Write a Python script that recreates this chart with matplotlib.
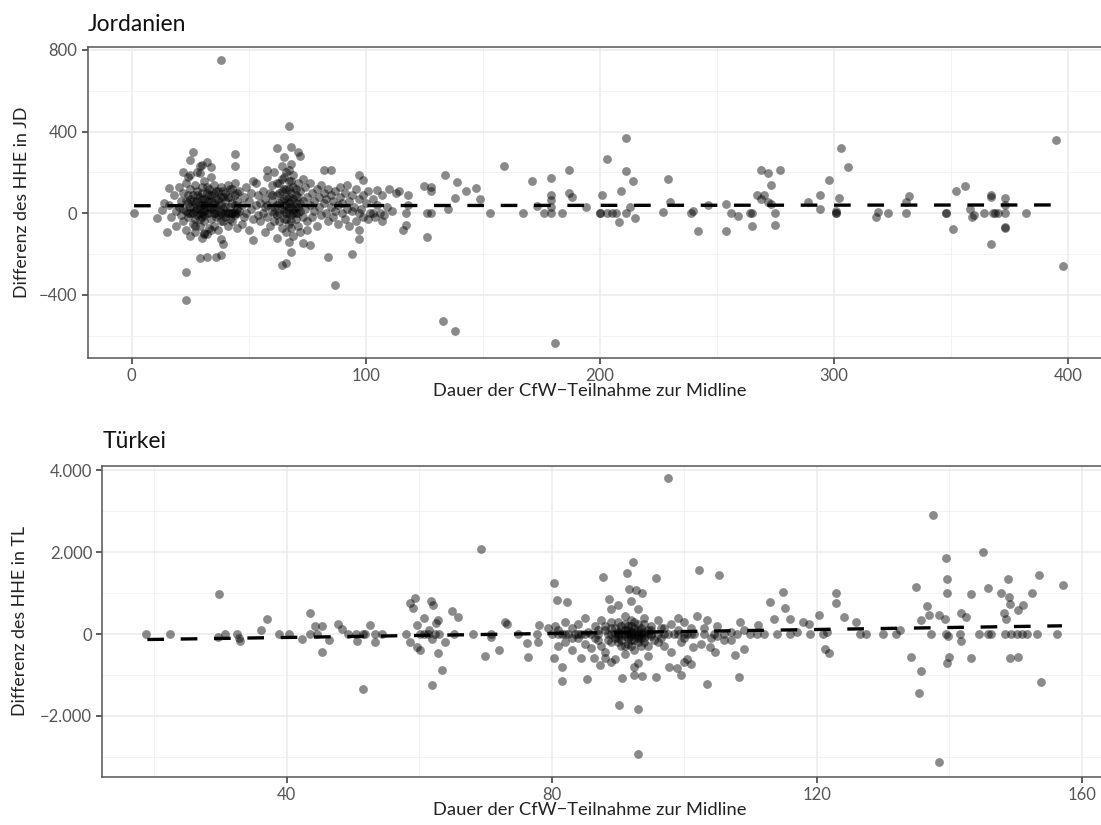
import matplotlib
matplotlib.use("Agg")
import matplotlib.pyplot as plt
import numpy as np
from matplotlib.ticker import FuncFormatter, MultipleLocator

plt.rcParams["font.family"] = ["Lato", "DejaVu Sans"]

# --- Jordanien: (Dauer in Tagen, Differenz HHE in JD) ---
jordan_outliers = [
    (38, 750), (67, 428), (23, -424), (23, -289), (87, -351), (133, -526), (138, -575),
    (181, -637), (211, 367), (303, 322), (395, 359), (398, -256),
]
jordan_cluster_a = [
    (1, 0), (11, -24), (13, 16), (14, 49), (15, -90), (16, 126), (16, 40), (17, -20),
    (18, 90), (19, 10), (19, -60), (20, 130), (20, 30), (21, -10), (21, 60), (22, 204),
    (22, -40), (22, 100), (23, 10), (23, 150), (23, -80), (24, 50), (24, -20), (24, 180),
    (25, 70), (25, -110), (25, 0), (25, 120), (25, 188), (26, 30), (26, -50), (26, 90),
    (26, 299), (25, 261), (27, -30), (27, 10), (27, 140), (27, -90), (28, 60), (28, -10),
    (28, 110), (28, 200), (29, 20), (29, -60), (29, 80), (29, 0), (29, 233), (29, 196),
    (29, -220), (30, 237), (30, 40), (30, -20), (30, 130), (30, -120), (31, 70), (31, 10),
    (31, 160), (31, -40), (31, -98), (31, -102), (32, 100), (32, -100), (32, 30), (32, 0),
    (32, 250), (32, -212), (33, 60), (33, -70), (33, 120), (34, 229), (34, 20), (34, -30),
    (34, 90), (34, 180), (35, 0), (35, 50), (35, -60), (35, 140), (36, 30), (36, -20),
    (36, 110), (36, -215), (37, -10), (37, 70), (37, -80), (38, 40), (38, 0), (38, 130),
    (38, -204), (38, -127), (39, -152), (39, -40), (39, 80), (39, 20), (40, 60), (40, -20),
    (40, 100), (41, 0), (41, 140), (41, -60), (42, 30), (42, 80), (42, -30), (43, 0),
    (43, 120), (43, 50), (44, 232), (44, 289), (44, -10), (44, 90), (44, 150), (45, 20),
    (45, -70), (45, 60),
]
jordan_cluster_a2 = [
    (22, 20), (23, 60), (24, 0), (24, 90), (25, 30), (26, 0), (26, 60), (27, 50), (27, -60),
    (28, 20), (28, 90), (29, 40), (29, -30), (30, 0), (30, 70), (30, 100), (31, 40),
    (31, -10), (32, 60), (32, 130), (33, 0), (33, 30), (33, 90), (34, 60), (34, -80),
    (35, 20), (35, 100), (36, 70), (36, 0), (37, 40), (37, 110), (38, 80), (38, -40),
    (39, 0), (39, 110), (40, 30), (40, 0), (41, 80), (42, 0), (42, 120), (43, -40),
    (43, 0), (44, 40), (44, 0), (45, 100), (45, 0),
]
jordan_cluster_b = [
    (46, 10), (46, 110), (47, -50), (47, 40), (48, 80), (48, -20), (49, 130), (49, 0),
    (50, 60), (50, -80), (51, 20), (51, 100), (52, -30), (52, 160), (52, -131), (53, 40),
    (53, 150), (54, -10), (54, 90), (55, 50), (55, -40), (56, 110), (56, 0), (57, 70),
    (57, -90), (57, 30), (58, 212),
]
jordan_cluster_c = [
    (58, 40), (58, -20), (58, 180), (59, 100), (59, -60), (60, 10), (60, 140), (60, 60),
    (61, -40), (61, 200), (61, 30), (62, 90), (62, -10), (62, -120), (62, 318), (63, 150),
    (63, 50), (63, 0), (64, -253), (64, 230), (64, -70), (64, 110), (64, 20), (65, 70),
    (65, -30), (65, 180), (65, 277), (65, 10), (66, -245), (66, 120), (66, -90), (66, 40),
    (66, 0), (67, 210), (67, 80), (67, -50), (67, 160), (67, 30), (67, -140), (68, -188),
    (68, 326), (68, 100), (68, -10), (68, 60), (68, 240), (68, -70), (69, 130), (69, 20),
    (69, -110), (69, 190), (70, 50), (70, -30), (70, 90), (70, 0), (71, 302), (71, 150),
    (71, -60), (71, 30), (72, 282), (72, 110), (72, -90), (72, 10), (73, -147), (73, 60),
    (73, -20), (73, 170),
]
jordan_cluster_c2 = [
    (60, 90), (61, 0), (62, 40), (62, 150), (63, 100), (63, -40), (64, 60), (64, 170),
    (65, 40), (65, 120), (66, 80), (66, 200), (66, -30), (67, 0), (67, 50), (67, 120),
    (68, 30), (68, 160), (68, -40), (69, 70), (69, 0), (70, 120), (70, 30), (71, 80),
    (71, 0), (72, 50),
]
jordan_cluster_d = [
    (74, 130), (74, 20), (75, -40), (75, 80), (75, -82), (76, -155), (76, 40), (76, 150),
    (77, -20), (77, 100), (78, 10), (78, 60), (79, 120), (79, -60), (80, 30), (80, 80),
    (81, -10), (81, 140), (82, 212), (82, 50), (82, 100), (83, 0), (83, 70), (84, -212),
    (84, -40), (84, 120), (85, 212), (85, 30), (85, 90), (86, -20), (86, 60), (87, 110),
    (87, 10), (88, 40), (88, -50), (89, 80), (89, 130), (90, 0), (90, 50), (91, 100),
    (91, -30), (92, 20), (92, 140), (93, 60), (93, -60), (94, -199), (94, 10), (94, 90),
    (95, 30), (96, -40), (96, 120), (97, 188), (97, -82), (97, -127), (97, 70), (97, 0),
    (98, 20), (99, 163), (99, -20), (99, 90), (100, 50), (101, -30), (101, 110), (102, 0),
    (103, 70), (103, 0), (104, -20), (105, 40), (105, 115), (106, 0), (107, 90), (107, -40),
    (108, -10), (109, 30), (110, 120), (111, 10), (113, 100), (114, 110), (116, -82),
    (117, -57), (117, 0), (118, 90), (118, 40),
]
jordan_tail = [
    (125, 134), (126, -118), (126, 0), (128, 131), (128, 109), (128, 0), (134, 188),
    (135, 21), (138, 75), (139, 155), (143, 111), (147, 126), (149, 70), (153, 0),
    (159, 233), (167, 0), (171, 160), (173, 38), (176, 0), (179, 171), (179, 90), (179, 65),
    (179, 30), (179, 0), (184, 0), (187, 212), (187, 101), (188, 82), (194, 29), (200, 0),
    (200, 0), (201, 90), (203, 264), (203, 0), (205, 0), (207, 0), (208, -44), (209, 109),
    (211, 209), (211, 0), (213, 33), (214, 158), (215, -24), (227, 5), (229, 168),
    (230, 54), (239, 0), (240, 13), (242, -85), (246, 41), (254, 46), (254, -85),
    (256, 0), (259, -13), (264, 0), (265, 0), (265, -62), (267, 90), (269, 212),
    (269, 69), (270, 90), (272, 199), (272, 57), (273, 139), (273, 46), (275, 0),
    (275, -57), (277, 212), (289, 57), (294, 90), (294, 20), (298, 163), (301, 0),
    (301, 0), (301, 10), (302, 73), (306, 229), (318, -16), (319, 8), (323, 0),
    (331, 0), (331, 57), (332, 85), (348, 0), (348, 0), (351, -77), (352, 109),
    (356, 134), (358, 20), (359, -20), (360, -8), (364, 0), (367, 90), (367, -152),
    (367, 82), (368, 0), (369, 0), (370, 0), (373, -65), (373, -73), (373, 77), (373, 41),
    (373, 0), (382, 0),
]
jordan_fit_x = [1, 397]
jordan_fit_y = [37, 41]

# --- Türkei: (Dauer in Tagen, Differenz HHE in TL) ---
turkey_outliers = [
    (97.5, 3810), (69.4, 2082), (29.8, 980), (51.6, -1347), (62.0, -1249), (93.1, -2922),
    (137.6, 2914), (138.4, -3126), (145.1, 2000), (139.5, 1853),
]
turkey_left = [
    (18.8, 0), (22.4, 0), (29.7, -65), (30.7, 0), (32.6, 0), (32.8, -106), (33.0, -163),
    (36.1, 98), (37.0, 359), (38.9, 0), (40.3, 0), (42.4, -130), (43.6, 506), (43.6, 0),
    (44.3, 204), (44.6, 0), (45.4, 204), (45.3, -449), (46.4, -147), (47.7, 245),
    (48.4, 114), (49.2, 0), (50.5, 0), (50.7, -163), (51.5, 0), (51.9, 0), (52.6, 220),
    (53.4, -188), (53.4, 0), (54.4, 0), (58.0, 0), (58.6, 751), (59.4, 873), (59.1, 629),
    (58.6, -188), (59.7, -310), (60.2, -392), (59.7, 220), (60.7, 400), (60.2, 0),
    (60.8, 0), (61.3, 0), (61.8, 808), (62.1, 710), (61.5, 100), (61.9, -120), (62.6, 278),
    (62.9, 343), (62.9, -457), (63.4, -882), (63.9, -188), (62.4, 0), (63.0, 0), (65.0, 571),
    (65.8, 424), (65.3, 0), (68.2, 0), (69.9, -531), (70.9, 0), (70.9, -80), (72.0, -392),
    (73.0, 286), (73.2, 250), (74.9, 0), (76.3, -229), (76.5, -571), (77.9, -188),
    (78.1, 220), (77.8, 0), (79.5, 139),
]
turkey_cluster = [
    (80, 0), (80.4, 1257), (80.5, 200), (80.3, -596), (80.8, 833), (81, -300), (81, 100),
    (81.5, 0), (81.5, -1143), (81.6, -800), (82, -200), (82, 300), (82.3, 792), (82.5, 0),
    (83, 150), (83, -400), (83.5, 0), (84, 250), (84, -100), (84.4, -580), (84.5, 0),
    (85, 400), (85, -250), (85.3, -1110), (85.5, 50), (86, 0), (86, -350), (86.4, -580),
    (86.5, 200), (87, -150), (87, 0), (87.3, -759), (87.5, 350), (87.7, 1404), (88, 100),
    (88, -450), (88, -580), (88.5, 0), (88.7, 857), (89, 600), (89, -200), (89, 150),
    (89, -678), (89.5, 0), (89.5, -600), (90, 300), (90, -100), (90, 0), (90, 700),
    (90.2, -1739), (90.5, -300), (90.5, 100), (90.6, -1086), (91, 0), (91, 450), (91, -500),
    (91, -50), (91.4, 1486), (91.5, 200), (91.5, 0), (91.5, -250), (91.7, 1094), (92, 800),
    (92, 50), (92, -150), (92, 0), (92, 350), (92.3, 1771), (92.5, -400), (92.5, 0),
    (92.5, 150), (92.5, -1004), (92.5, -800), (92.8, 1078), (93, 600), (93, -100), (93, 0),
    (93, -700), (93, 250), (93.1, -1845), (93.5, 50), (93.5, -300), (93.5, 0),
    (93.6, -1029), (93.7, 996), (94, 400), (94, -200), (94, 0), (94.5, 100), (94.5, -550),
    (95, 0), (95, 200), (95.5, -150), (95.7, 1363), (95.7, -1045), (96, 0), (96, 350),
    (96.5, -100), (97, 150), (97, -300), (97.5, 0), (97.7, -800), (98, 250), (98, -450),
    (98.5, 0), (98.9, -841), (99, 400), (99, 100), (99.5, -200), (99.5, -1004),
    (99.9, -678), (100, 0), (100, 300), (100.5, -600), (101, 150), (101, -743),
    (101.4, -310), (101.5, 0), (102, 450), (102.2, 1567), (102.5, -250), (103, 0),
    (103.4, -1224), (103.5, 350), (103.9, -310), (104, -100), (104.5, 0), (104.6, -433),
    (105, 200), (105.3, 1445), (106, 0), (107, -150), (107.6, -514), (108, 0),
    (108.3, -1045), (108.4, 302), (109, -375), (109, 100), (110, 0), (111, 0),
    (111.1, 220), (112, 0), (113, 776), (113.6, 367), (114, 0), (114.9, 1020),
    (115.2, 629), (115.9, 359), (116, 0), (117, 50), (118, 302), (118.8, 245), (119, 0),
    (120.4, 465), (121, 0), (121.2, -359), (121.5, 50), (121.9, -457), (122.9, 996),
    (122.9, 767), (124.1, 408), (126, 302), (126.5, 0), (127.5, 0), (130, 0), (132, 0),
    (132.5, 100),
]
turkey_cluster2 = [
    (86.5, -100), (87, 100), (87.5, -300), (88, 200), (88.5, -150), (89, 0), (89, 300),
    (89.5, -100), (89.5, 150), (90, -200), (90, 50), (90.5, 0), (90.5, 200), (90.5, -150),
    (91, 100), (91, -300), (91, 250), (91.5, -100), (91.5, 100), (92, -50), (92, 200),
    (92, -300), (92.5, 50), (92.5, -150), (92.5, 300), (93, 100), (93, -200), (93, -50),
    (93.5, 150), (93.5, -100), (94, 50), (94, -100), (94, 250), (94.5, 0), (94.5, -300),
    (95, -50), (95, 100), (96, -200), (96.5, 150), (97, 0), (84, 0), (85, 0), (83, -100),
    (82, 0), (81, 0), (99, 0), (100, -100), (101, 0), (103, 150), (105, -50), (106, -150),
    (107, 50), (100.5, 0),
]
turkey_right = [
    (134.2, -571), (135, 1143), (135.4, -1453), (135.8, -898), (135.7, 343), (136.7, 694),
    (137, 465), (137.2, 0), (138.5, 465), (139.3, 359), (139.7, 1347), (139.7, 1012),
    (139.9, -571), (139.7, -718), (139.5, 0), (139.8, -60), (141.7, 506), (142.5, 408),
    (141.7, -163), (141.6, 0), (143.3, 980), (143.3, -580), (144.5, 0), (145.8, 0),
    (145.9, 1118), (146.3, 0), (147.8, 1012), (148.3, 506), (148.5, 359), (148.9, 1339),
    (149, 914), (148.4, 0), (149.1, 726), (149.1, -596), (149.3, 0), (150.3, 588),
    (150.3, -555), (150.2, 0), (151.2, 710), (151, 0), (151.8, 0), (152.5, 996),
    (153.6, 1445), (153.9, -1167), (153.3, 0), (156.3, 0), (157.2, 1200),
]
turkey_fit_x = [19, 157]
turkey_fit_y = [-135, 200]

W, H = 1101, 825
fig = plt.figure(figsize=(W / 100, H / 100), dpi=100)


def px_axes(left, top, right, bottom):
    return fig.add_axes([left / W, 1 - bottom / H, (right - left) / W, (bottom - top) / H])


def de_number(v, pos):
    v = int(round(v))
    s = f"{abs(v):,}".replace(",", ".")
    return ("\u2212" + s) if v < 0 else s


def style(ax):
    ax.set_facecolor("white")
    ax.grid(True, which="major", color="#EBEBEB", lw=1.1, zorder=0)
    ax.grid(True, which="minor", color="#F2F2F2", lw=0.7, zorder=0)
    ax.set_axisbelow(True)
    for sp in ax.spines.values():
        sp.set_color("#555555")
        sp.set_linewidth(1.1)
    ax.tick_params(which="major", length=4.3, width=1.1, color="#333333",
                   labelsize=12, labelcolor="#555555", pad=3)
    ax.tick_params(which="minor", length=0)
    ax.yaxis.set_major_formatter(FuncFormatter(de_number))


def draw(ax, groups, fit_x, fit_y):
    pts = np.array([p for g in groups for p in g], dtype=float)
    ax.scatter(pts[:, 0], pts[:, 1], s=40, color="black", alpha=0.46,
               linewidths=0, zorder=2)
    ax.plot(fit_x, fit_y, color="black", lw=2.4, linestyle=(0, (5.0, 5.0)),
            dash_capstyle="butt", zorder=3)


# Jordanien
ax1 = px_axes(87.7, 46.7, 1107.3, 358.3)
style(ax1)
draw(ax1, [jordan_outliers, jordan_cluster_a, jordan_cluster_a2, jordan_cluster_b,
           jordan_cluster_c, jordan_cluster_c2, jordan_cluster_d, jordan_tail],
     jordan_fit_x, jordan_fit_y)
ax1.set_xlim(-18.8, 416.8)
ax1.set_ylim(-710, 816)
ax1.xaxis.set_major_locator(MultipleLocator(100))
ax1.xaxis.set_minor_locator(MultipleLocator(50))
ax1.yaxis.set_major_locator(MultipleLocator(400))
ax1.yaxis.set_minor_locator(MultipleLocator(200))
ax1.set_title("Jordanien", loc="left", fontsize=16.5, pad=11, color="#111111")

# Türkei
ax2 = px_axes(102.3, 465.7, 1107.0, 776.7)
style(ax2)
draw(ax2, [turkey_outliers, turkey_left, turkey_cluster, turkey_cluster2, turkey_right],
     turkey_fit_x, turkey_fit_y)
ax2.set_xlim(12.2, 163.8)
ax2.set_ylim(-3489, 4115)
ax2.xaxis.set_major_locator(MultipleLocator(40))
ax2.xaxis.set_minor_locator(MultipleLocator(20))
ax2.yaxis.set_major_locator(MultipleLocator(2000))
ax2.yaxis.set_minor_locator(MultipleLocator(1000))
ax2.set_title("Türkei", loc="left", fontsize=16.5, pad=13, color="#111111")

xlab = "Dauer der CfW\u2212Teilnahme zur Midline"
fig.text(590 / W, 1 - 391 / H, xlab, ha="center", va="center", fontsize=13.2, color="#222222")
fig.text(590 / W, 1 - 810 / H, xlab, ha="center", va="center", fontsize=13.2, color="#222222")
fig.text(22 / W, 1 - 202 / H, "Differenz des HHE in JD", rotation=90,
         ha="center", va="center", fontsize=12.8, color="#222222")
fig.text(20 / W, 1 - 621 / H, "Differenz des HHE in TL", rotation=90,
         ha="center", va="center", fontsize=12.8, color="#222222")

fig.savefig("out.png", dpi=100)
